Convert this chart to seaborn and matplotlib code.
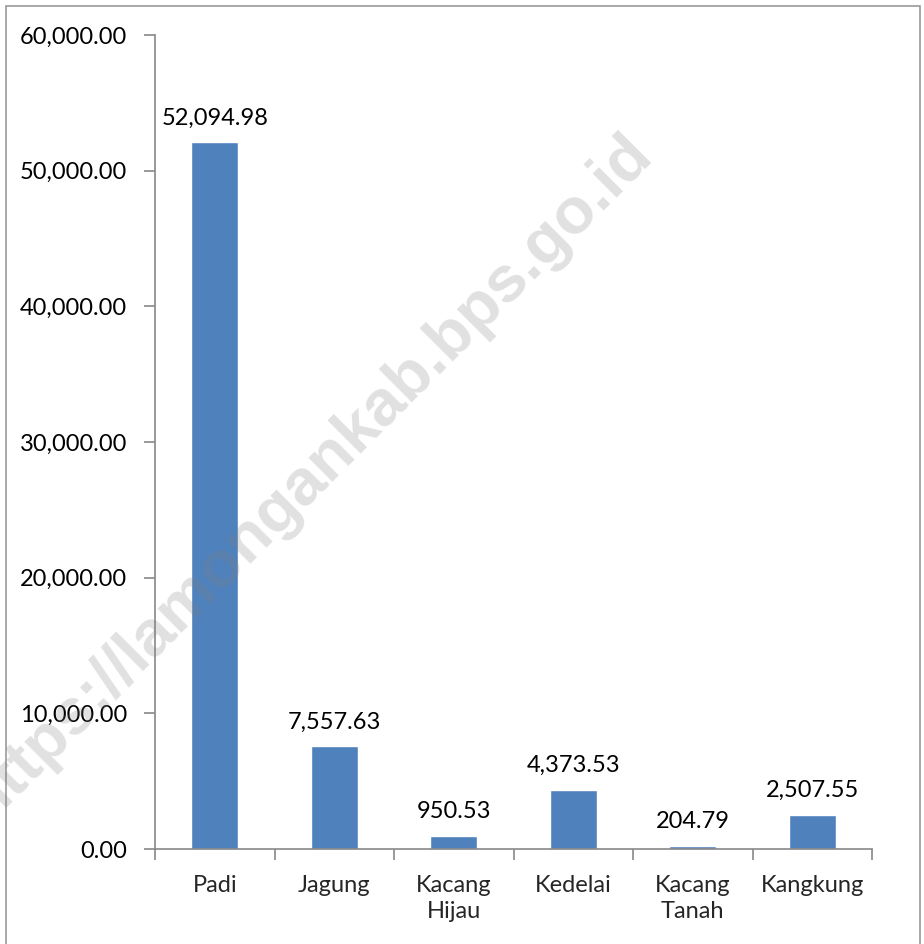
import matplotlib
matplotlib.use("Agg")
import matplotlib.pyplot as plt
import seaborn as sns
import pandas as pd
from matplotlib.patches import Rectangle
from matplotlib.ticker import FuncFormatter, MultipleLocator

categories = ["Padi", "Jagung", "Kacang\nHijau", "Kedelai", "Kacang\nTanah", "Kangkung"]
values = [52094.98, 7557.63, 950.53, 4373.53, 204.79, 2507.55]
watermark = "https://lamongankab.bps.go.id"

sns.set_theme(style="white")
plt.rcParams['font.family'] = ['Lato', 'DejaVu Sans']

df = pd.DataFrame({"cat": categories, "val": values})

fig = plt.figure(figsize=(9.24, 9.44), dpi=100)
ax = fig.add_axes([155/924, 1 - 849/944, (872-155)/924, (849-35)/944])

sns.barplot(data=df, x="cat", y="val", color="#4F81BD", saturation=1, width=0.39, ax=ax)

ax.set_ylim(0, 60000)
ax.set_xlim(-0.5, len(categories) - 0.5)
ax.yaxis.set_major_locator(MultipleLocator(10000))
ax.yaxis.set_major_formatter(FuncFormatter(lambda v, p: f"{v:,.2f}"))
ax.set_xlabel("")
ax.set_ylabel("")

gray = "#888888"
for s in ["top", "right"]:
    ax.spines[s].set_visible(False)
for s in ["left", "bottom"]:
    ax.spines[s].set_color(gray)
    ax.spines[s].set_linewidth(1.2)

FS = 17
ax.tick_params(axis="y", which="major", left=True, length=8, width=1.2, color=gray,
               labelsize=FS, labelcolor="black", pad=12)
ax.set_xticks(range(len(categories)))
ax.set_xticklabels(categories, fontsize=FS, linespacing=1.25)
ax.tick_params(axis="x", which="major", bottom=False, length=0, pad=19, labelsize=FS)
ax.set_xticks([i - 0.5 for i in range(len(categories) + 1)], minor=True)
ax.tick_params(axis="x", which="minor", bottom=True, length=8, width=1.2, color=gray)

for i, v in enumerate(values):
    ax.annotate(f"{v:,.2f}", (i, v), xytext=(0, 10), textcoords="offset points",
                ha="center", va="bottom", fontsize=FS, color="black")

fig.text(320/924, 1 - 490/944, watermark, fontsize=47, fontweight="bold",
         family=["Liberation Sans", "DejaVu Sans"], color="#808080",
         alpha=0.24, rotation=45, rotation_mode="anchor",
         ha="center", va="baseline", zorder=10)

fig.patches.append(Rectangle((6/924, -0.01), (920-6)/924, 1 - 6/944 + 0.01,
                             transform=fig.transFigure, fill=False,
                             edgecolor="#999999", linewidth=1.2))

fig.savefig("out.png", dpi=100)
